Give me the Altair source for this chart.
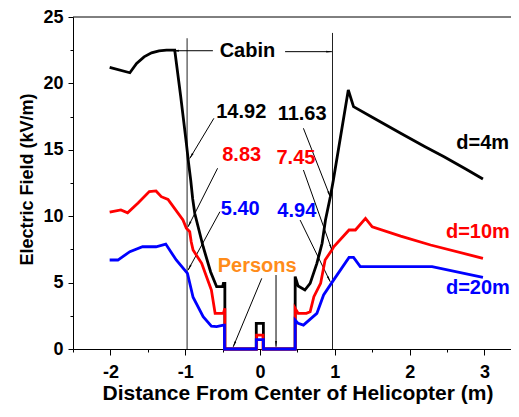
import math
import altair as alt
import pandas as pd

# ---------------- data ----------------
x_4m = [-2.01, -1.74, -1.65, -1.55, -1.45, -1.35, -1.25, -1.14, -1.06, -0.985, -0.955, -0.926, -0.90, -0.872,
        -0.76, -0.66, -0.58, -0.50, -0.49, -0.47, -0.47, -0.05, -0.05, 0.045, 0.045, 0.47, 0.47, 0.51, 0.60,
        0.67, 0.76, 0.83, 0.875, 0.94, 0.98, 1.18, 1.25, 1.5, 1.88, 2.2, 2.46, 2.75, 2.98]
y_4m = [21.2, 20.8, 21.5, 22.0, 22.3, 22.45, 22.5, 22.5, 19.0, 15.5, 14.0, 12.7, 11.3, 10.2,
        7.7, 5.8, 4.69, 4.69, 4.94, 4.94, 0.0, 0.0, 1.93, 1.93, 0.0, 0.0, 5.45, 4.74, 4.44,
        4.94, 6.45, 7.96, 9.71, 11.47, 12.7, 19.5, 18.25, 17.45, 16.24, 15.25, 14.48, 13.55, 12.8]

x_10m = [-2.01, -1.86, -1.77, -1.63, -1.48, -1.39, -1.32, -1.23, -1.03, -0.985, -0.94, -0.92, -0.895, -0.78,
         -0.715, -0.65, -0.60, -0.49, -0.47, -0.47, -0.045, -0.045, 0.04, 0.04, 0.47, 0.47, 0.51, 0.62,
         0.67, 0.72, 0.81, 0.87, 0.96, 0.985, 1.19, 1.275, 1.41, 1.5, 1.88, 2.28, 2.98]
y_10m = [10.3, 10.47, 10.26, 11.0, 11.85, 11.9, 11.47, 11.27, 9.71, 9.09, 8.83, 8.08, 7.45, 6.45,
         5.44, 4.44, 2.68, 2.68, 3.06, 0.0, 0.0, 1.05, 1.05, 0.0, 0.0, 3.06, 2.68, 2.68,
         2.8, 3.94, 4.94, 6.7, 7.45, 7.7, 8.96, 8.96, 9.84, 9.2, 8.5, 7.83, 6.83]

x_20m = [-2.01, -1.9, -1.74, -1.57, -1.39, -1.26, -1.12, -0.97, -0.895, -0.76, -0.65, -0.58, -0.49, -0.475,
         -0.475, -0.05, -0.05, 0.045, 0.045, 0.47, 0.47, 0.51, 0.58, 0.76, 0.85, 0.96, 1.19, 1.25,
         1.34, 2.3, 2.98]
y_20m = [6.7, 6.7, 7.33, 7.7, 7.7, 7.9, 6.7, 5.7, 3.9, 2.43, 1.72, 1.68, 1.8, 1.8,
         0.0, 0.0, 0.7, 0.7, 0.0, 0.0, 2.18, 1.93, 1.8, 2.68, 4.07, 5.0, 6.9, 6.9,
         6.2, 6.2, 5.4]

series_names = ["d=4m", "d=10m", "d=20m"]
series_colors = ["#000000", "#FF0000", "#0000FF"]

x_ticks = [-2.5, -2.0, -1.5, -1.0, -0.5, 0.0, 0.5, 1.0, 1.5, 2.0, 2.5, 3.0]
y_ticks = [0, 2.5, 5, 7.5, 10, 12.5, 15, 17.5, 20, 22.5, 25]

# cabin boundary lines
cabin_x = [-0.975, 0.969]
cabin_top = [23.4, 23.8]

# annotation arrows (start -> tip)
arr_x1 = [-0.617, -0.567, -0.536, 0.580, 0.580, 0.536, 0.023, 0.214, -0.63, 0.335]
arr_y1 = [17.37, 13.61, 10.34, 16.62, 13.48, 9.71, 5.32, 5.57, 22.46, 22.39]
arr_x2 = [-0.938, -0.961, -0.961, 0.938, 0.961, 0.938, -0.358, 0.214, -1.16, 0.96]
arr_y2 = [14.36, 9.21, 5.95, 11.47, 7.45, 5.07, 0.17, 0.17, 22.46, 22.39]

# centred labels
lab_text = ["Cabin", "14.92", "11.63", "8.83", "7.45", "5.40", "4.94", "Persons"]
lab_x = [-0.168, -0.251, 0.563, -0.245, 0.480, -0.264, 0.492, -0.038]
lab_y = [22.46, 17.87, 17.70, 14.61, 14.36, 10.52, 10.41, 6.25]
lab_color = ["#000000", "#000000", "#000000", "#FF0000", "#FF0000", "#0000FF", "#0000FF", "#FF8C1A"]

# series labels (right aligned at the right edge)
ser_text = ["d=4m", "d=10m", "d=20m"]
ser_x = [3.33, 3.34, 3.34]
ser_y = [15.53, 8.83, 4.57]

# ---------------- build tables ----------------
FONT = "Liberation Sans"
W, H = 438, 332
XD = [-2.5, 3.355]
YD = [0, 25]
kx = W / (XD[1] - XD[0])
ky = H / (YD[1] - YD[0])

rows = []
for name, xs, ys in zip(series_names, [x_4m, x_10m, x_20m], [y_4m, y_10m, y_20m]):
    for i, (a, b) in enumerate(zip(xs, ys)):
        rows.append({"series": name, "x": a, "y": b, "i": i})
lines_df = pd.DataFrame(rows)

arrows_df = pd.DataFrame({"x": arr_x1, "y": arr_y1, "x2": arr_x2, "y2": arr_y2})
heads = []
for a, b, c, d in zip(arr_x1, arr_y1, arr_x2, arr_y2):
    dxp = (c - a) * kx
    dyp = -(d - b) * ky
    L = math.hypot(dxp, dyp)
    ang = math.degrees(math.atan2(dxp, -dyp)) % 360
    back = 3.5
    hx = c - dxp / L * back / kx
    hy = d + dyp / L * back / ky
    heads.append({"x": hx, "y": hy, "angle": ang})
heads_df = pd.DataFrame(heads)

labels_df = pd.DataFrame({"t": lab_text, "x": lab_x, "y": lab_y, "c": lab_color})
ser_df = pd.DataFrame({"t": ser_text, "x": ser_x, "y": ser_y, "c": series_colors})
cabin_df = pd.DataFrame({"x": cabin_x, "y": [0, 0], "y2": cabin_top})
top_df = pd.DataFrame({"x": [XD[0]], "x2": [XD[1]], "y": [YD[1]]})

xscale = alt.Scale(domain=XD, nice=False, zero=False)
yscale = alt.Scale(domain=YD, nice=False, zero=False)

xaxis = alt.Axis(
    values=x_ticks,
    labelExpr="datum.value % 1 === 0 ? toString(datum.value) : ''",
    tickSize={"condition": {"test": "datum.value % 1 === 0", "value": 6}, "value": 3},
    title="Distance From Center of Helicopter (m)",
    grid=False, domainColor="black", tickColor="black", domainWidth=1, tickWidth=1,
    labelFont=FONT, labelFontSize=18, labelFontWeight="bold", labelColor="black",
    labelPadding=8, labelFlush=False, labelOverlap=False,
    titleFont=FONT, titleFontSize=21, titleFontWeight="bold", titleColor="black",
    titleX=224.5, titleY=44, titleBaseline="middle", titleAlign="center",
)
yaxis = alt.Axis(
    values=y_ticks,
    labelExpr="datum.value % 5 === 0 ? datum.label : ''",
    tickSize={"condition": {"test": "datum.value % 5 === 0", "value": 5}, "value": 3},
    title="Electric Field (kV/m)",
    grid=False, domainColor="black", tickColor="black", domainWidth=1, tickWidth=1,
    labelFont=FONT, labelFontSize=18, labelFontWeight="bold", labelColor="black",
    labelPadding=5, labelFlush=False, labelOverlap=False,
    titleFont=FONT, titleFontSize=18, titleFontWeight="bold", titleColor="black",
    titleX=-45.5, titleY=162, titleAngle=-90, titleBaseline="middle", titleAlign="center",
)

lines = alt.Chart(lines_df).mark_line(strokeWidth=2.8).encode(
    color=alt.Color("series:N", scale=alt.Scale(domain=series_names, range=series_colors), legend=None),
    order=alt.Order("i:Q"),
    detail="series:N",
)

top_line = alt.Chart(top_df).mark_rule(color="black", strokeWidth=1).encode(x2="x2:Q")

cabin = alt.Chart(cabin_df).mark_rule(color="#222222", strokeWidth=1).encode(y2="y2:Q")

arrows = alt.Chart(arrows_df).mark_rule(color="black", strokeWidth=1).encode(x2="x2:Q", y2="y2:Q")

arrowheads = alt.Chart(heads_df).mark_point(shape="wedge", filled=True, color="black", size=55, opacity=1).encode(
    angle=alt.Angle("angle:Q", scale=None),
)

labels = alt.Chart(labels_df).mark_text(font=FONT, fontSize=20, fontWeight="bold", align="center",
                                        baseline="middle").encode(
    text="t:N", color=alt.Color("c:N", scale=None),
)

ser_labels = alt.Chart(ser_df).mark_text(font=FONT, fontSize=20, fontWeight="bold", align="right",
                                         baseline="middle").encode(
    text="t:N", color=alt.Color("c:N", scale=None),
)

chart = alt.layer(cabin, arrows, lines, top_line, arrowheads, labels, ser_labels).encode(
    x=alt.X("x:Q", scale=xscale, axis=xaxis),
    y=alt.Y("y:Q", scale=yscale, axis=yaxis),
).properties(
    width=W, height=H,
    autosize=alt.AutoSizeParams(type="none"),
    padding={"left": 65, "top": 9, "right": 0, "bottom": 56},
    background="white",
).configure_view(stroke=None)

chart.save("out.html", embed_options={"renderer": "svg", "actions": False})
